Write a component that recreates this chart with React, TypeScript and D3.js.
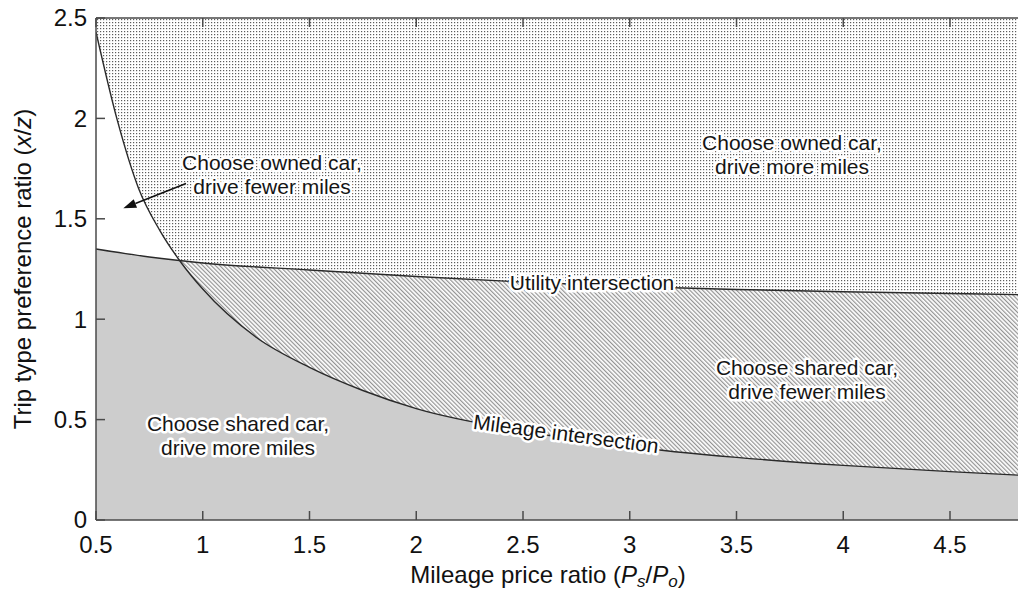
import React from "react";
import * as d3 from "d3";

// Mileage-intersection boundary (x = Ps/Po, y = x/z)
const mileageX = [0.5, 0.6, 0.7, 0.8, 0.9, 1.0, 1.25, 1.5, 1.75, 2.0, 2.5, 3.0, 3.5, 4.0, 4.5, 4.85];
const mileageY = [2.43, 1.99, 1.65, 1.44, 1.28, 1.15, 0.91, 0.76, 0.645, 0.555, 0.443, 0.365, 0.312, 0.272, 0.241, 0.222];

// Utility-intersection boundary
const utilityX = [0.5, 0.75, 1.0, 1.5, 2.0, 2.5, 3.0, 3.5, 4.0, 4.5, 4.85];
const utilityY = [1.35, 1.31, 1.28, 1.245, 1.213, 1.185, 1.163, 1.148, 1.137, 1.128, 1.122];

const xTicks = [0.5, 1, 1.5, 2, 2.5, 3, 3.5, 4, 4.5];
const yTicks = [0, 0.5, 1, 1.5, 2, 2.5];

const ownedMoreLabel = ["Choose owned car,", "drive more miles"];
const ownedFewerLabel = ["Choose owned car,", "drive fewer miles"];
const sharedFewerLabel = ["Choose shared car,", "drive fewer miles"];
const sharedMoreLabel = ["Choose shared car,", "drive more miles"];
const utilityLabel = "Utility intersection";
const mileageLabel = "Mileage intersection";

const W = 1018;
const H = 594;
const FONT = "'Liberation Sans', Arial, Helvetica, sans-serif";

export default function App() {
  const x = d3.scaleLinear().domain([0.5, 5]).range([96, 96 + 213.5 * 4.5]);
  const y = d3.scaleLinear().domain([0, 2.5]).range([520, 18]);
  const left = x(0.5);
  const right = W;
  const top = y(2.5);
  const bottom = y(0);

  const mileage: [number, number][] = mileageX.map((v, i) => [v, mileageY[i]]);
  const utility: [number, number][] = utilityX.map((v, i) => [v, utilityY[i]]);

  const line = d3
    .line<[number, number]>()
    .x((d) => x(d[0]))
    .y((d) => y(d[1]))
    .curve(d3.curveMonotoneX);
  const below = d3
    .area<[number, number]>()
    .x((d) => x(d[0]))
    .y0(bottom)
    .y1((d) => y(d[1]))
    .curve(d3.curveMonotoneX);

  const halo = {
    paintOrder: "stroke" as const,
    stroke: "#fff",
    strokeWidth: 5,
    strokeLinejoin: "round" as const,
  };
  const labelStyle = { fontFamily: FONT, fontSize: 21, fill: "#151515", ...halo };

  // arrow pointing into the white region
  const aStart = [186, 183.5];
  const aTip = [123.3, 208.3];
  const dx = aTip[0] - aStart[0];
  const dy = aTip[1] - aStart[1];
  const len = Math.hypot(dx, dy);
  const ux = dx / len;
  const uy = dy / len;
  const hl = 13;
  const hw = 4.5;
  const bx = aTip[0] - hl * ux;
  const by = aTip[1] - hl * uy;
  const head = `M${aTip[0]},${aTip[1]} L${bx - hw * uy},${by + hw * ux} L${bx + hw * uy},${by - hw * ux} Z`;

  const twoLine = (lines: string[], cx: number, baseline: number, key: string) => (
    <text key={key} x={cx} y={baseline} textAnchor="middle" style={labelStyle}>
      <tspan x={cx} y={baseline}>{lines[0]}</tspan>
      <tspan x={cx} y={baseline + 24}>{lines[1]}</tspan>
    </text>
  );

  return (
    <svg
      width={W}
      height={H}
      style={{ position: "absolute", left: 0, top: 0, background: "#fff" }}
    >
      <defs>
        <pattern id="dots" width="3" height="3" patternUnits="userSpaceOnUse">
          <rect width="3" height="3" fill="#fff" />
          <rect x="1" y="1" width="1.2" height="1.2" fill="#5c5c5c" />
        </pattern>
        <pattern
          id="hatch"
          width="3"
          height="3"
          patternUnits="userSpaceOnUse"
          patternTransform="rotate(-45)"
        >
          <rect width="3" height="3" fill="#fff" />
          <rect width="1.2" height="3" fill="#939393" />
        </pattern>
        <clipPath id="plot">
          <rect x={left} y={top} width={right - left} height={bottom - top} />
        </clipPath>
        <clipPath id="underMileage">
          <path d={below(mileage) || ""} />
        </clipPath>
      </defs>

      <g clipPath="url(#plot)">
        {/* above both boundaries: owned car, more miles */}
        <rect x={left} y={top} width={right - left} height={bottom - top} fill="url(#dots)" />
        {/* below the mileage boundary */}
        <path d={below(mileage) || ""} fill="#fff" />
        {/* below the utility boundary */}
        <path d={below(utility) || ""} fill="url(#hatch)" />
        {/* below both boundaries: shared car, more miles */}
        <path d={below(utility) || ""} fill="#cdcdcd" clipPath="url(#underMileage)" />

        <path d={line(utility) || ""} fill="none" stroke="#2a2a2a" strokeWidth={1.4} />
        <path d={line(mileage) || ""} fill="none" stroke="#2a2a2a" strokeWidth={1.4} />
      </g>

      {/* frame and ticks */}
      <g stroke="#4a4a4a" strokeWidth={1.5} fill="none">
        <line x1={left} y1={top} x2={left} y2={bottom} />
        <line x1={left} y1={bottom} x2={right} y2={bottom} />
        <line x1={left} y1={top} x2={right} y2={top} />
        {xTicks.map((t) => (
          <g key={"xt" + t}>
            <line x1={x(t)} x2={x(t)} y1={bottom} y2={bottom - 9} />
            <line x1={x(t)} x2={x(t)} y1={top} y2={top + 9} />
          </g>
        ))}
        {yTicks.map((t) => (
          <line key={"yt" + t} x1={left} x2={left + 9} y1={y(t)} y2={y(t)} />
        ))}
      </g>

      <g style={{ fontFamily: FONT, fontSize: 24, fill: "#111" }}>
        {xTicks.map((t) => (
          <text key={"xl" + t} x={x(t)} y={553} textAnchor="middle">
            {String(t)}
          </text>
        ))}
        {yTicks.map((t) => (
          <text key={"yl" + t} x={87} y={y(t)} dy="0.35em" textAnchor="end">
            {String(t)}
          </text>
        ))}
        <text x={548} y={583} textAnchor="middle">
          Mileage price ratio (<tspan fontStyle="italic">P</tspan>
          <tspan fontStyle="italic" fontSize={17} dy={4}>s</tspan>
          <tspan dy={-4}>/</tspan>
          <tspan fontStyle="italic">P</tspan>
          <tspan fontStyle="italic" fontSize={17} dy={4}>o</tspan>
          <tspan dy={-4}>)</tspan>
        </text>
        <text transform={`translate(31,${(top + bottom) / 2}) rotate(-90)`} textAnchor="middle">
          Trip type preference ratio (<tspan fontStyle="italic">x</tspan>/<tspan fontStyle="italic">z</tspan>)
        </text>
      </g>

      {/* region annotations */}
      {twoLine(ownedMoreLabel, 792, 150, "om")}
      {twoLine(ownedFewerLabel, 272, 170, "of")}
      {twoLine(sharedFewerLabel, 807, 375, "sf")}
      {twoLine(sharedMoreLabel, 238, 431, "sm")}
      <text x={592} y={290} textAnchor="middle" style={labelStyle}>
        {utilityLabel}
      </text>
      <text transform="translate(565,441) rotate(7.5)" textAnchor="middle" style={labelStyle}>
        {mileageLabel}
      </text>

      <line x1={aStart[0]} y1={aStart[1]} x2={bx} y2={by} stroke="#111" strokeWidth={1.6} />
      <path d={head} fill="#111" />
    </svg>
  );
}
